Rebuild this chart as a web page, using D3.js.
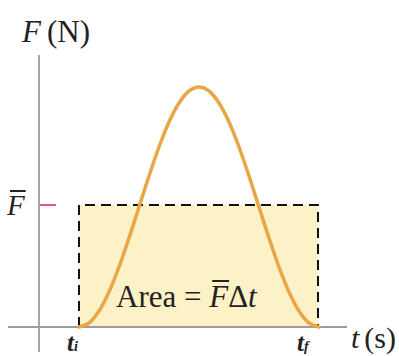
<!DOCTYPE html>
<html>
<head>
<meta charset="utf-8">
<script src="https://d3js.org/d3.v7.min.js"></script>
<style>
  body { margin: 0; background: #fff; }
  svg { display: block; }
  text { font-family: "Liberation Serif", "Times New Roman", serif; fill: #222; }
</style>
</head>
<body>
<svg id="svg1" width="399" height="356"></svg>
<script>
// force pulse (t and F in plot units)
var tValues = [4, 5, 6, 7, 8, 9, 10, 11, 12, 13, 14, 15, 16,
               17, 18, 19, 20, 21, 22, 23, 24, 25, 26, 27, 28];
var forceValues = [0, 0.4, 1.6, 3.5, 6, 8.9, 12, 15.1, 18, 20.5, 22.4, 23.6, 24,
                   23.6, 22.4, 20.5, 18, 15.1, 12, 8.9, 6, 3.5, 1.6, 0.4, 0];
var tInitial = 4;
var tFinal = 27.9;
var forceAverage = 12.2;

var width = 399;
var height = 356;

var svg1 = d3.select("#svg1");

var x = d3.scaleLinear().domain([0, 30]).range([39, 339]);
var y = d3.scaleLinear().domain([0, 30]).range([327, 27]);

var g = svg1.append("g");

// impulse rectangle
g.append("rect")
  .attr("x", x(tInitial))
  .attr("y", y(forceAverage))
  .attr("width", x(tFinal) - x(tInitial))
  .attr("height", y(0) - y(forceAverage))
  .attr("fill", "#fdf1c8");

// axes
g.append("line")
  .attr("x1", x(-3.1)).attr("x2", x(30.8))
  .attr("y1", y(0)).attr("y2", y(0))
  .attr("stroke", "#9c9c9c").attr("stroke-width", 1.8);
g.append("line")
  .attr("x1", x(0)).attr("x2", x(0))
  .attr("y1", y(-2.5)).attr("y2", y(27.2))
  .attr("stroke", "#9c9c9c").attr("stroke-width", 1.8);

// dashed outline of the rectangle
g.append("path")
  .attr("d", d3.line()([
    [x(tInitial), y(0)],
    [x(tInitial), y(forceAverage)],
    [x(tFinal), y(forceAverage)],
    [x(tFinal), y(0)]
  ]))
  .attr("fill", "none")
  .attr("stroke", "#111")
  .attr("stroke-width", 2)
  .attr("stroke-dasharray", "10,6");

// F average tick
g.append("line")
  .attr("x1", x(0) + 1).attr("x2", x(1.7))
  .attr("y1", y(forceAverage)).attr("y2", y(forceAverage))
  .attr("stroke", "#e2487e").attr("stroke-width", 1.8);

// force curve
var line = d3.line()
  .x(function(d, i) { return x(tValues[i]); })
  .y(function(d) { return y(d); })
  .curve(d3.curveCatmullRom);

g.append("path")
  .datum(forceValues)
  .attr("d", line)
  .attr("fill", "none")
  .attr("stroke", "#eaa546")
  .attr("stroke-width", 3.5)
  .attr("stroke-linecap", "round");

// overline helper for F-bar
function overline(textSel, charIndex, dy) {
  var ext = textSel.node().getExtentOfChar(charIndex);
  g.append("line")
    .attr("x1", ext.x + 3).attr("x2", ext.x + ext.width + 1)
    .attr("y1", ext.y + dy).attr("y2", ext.y + dy)
    .attr("stroke", "#222").attr("stroke-width", 2);
}

// axis titles
var fTitle = g.append("text").attr("x", 22).attr("y", 42).style("font-size", "31px");
fTitle.append("tspan").style("font-style", "italic").text("F");
fTitle.append("tspan").attr("dx", 6).text("(N)");

var tTitle = g.append("text").attr("x", 351).attr("y", 348).style("font-size", "30px");
tTitle.append("tspan").style("font-style", "italic").text("t");
tTitle.append("tspan").attr("dx", 5).text("(s)");

// F bar label
var fBar = g.append("text").attr("x", 7).attr("y", 215)
  .style("font-size", "29px").style("font-style", "italic").text("F");
overline(fBar, 0, 2);

// t_i and t_f
var ti = g.append("text").attr("x", 67).attr("y", 351)
  .style("font-size", "25px").style("font-style", "italic").style("font-weight", "bold");
ti.append("tspan").text("t");
ti.append("tspan").style("font-size", "14px").text("i");

var tf = g.append("text").attr("x", 297).attr("y", 351)
  .style("font-size", "25px").style("font-style", "italic").style("font-weight", "bold");
tf.append("tspan").text("t");
tf.append("tspan").style("font-size", "14px").text("f");

// area label
var area = g.append("text").attr("x", 116).attr("y", 307).style("font-size", "31px");
area.append("tspan").text("Area = ");
area.append("tspan").style("font-style", "italic").text("F");
area.append("tspan").text("\u0394");
area.append("tspan").style("font-style", "italic").text("t");
overline(area, 7, 2);
</script>
</body>
</html>
